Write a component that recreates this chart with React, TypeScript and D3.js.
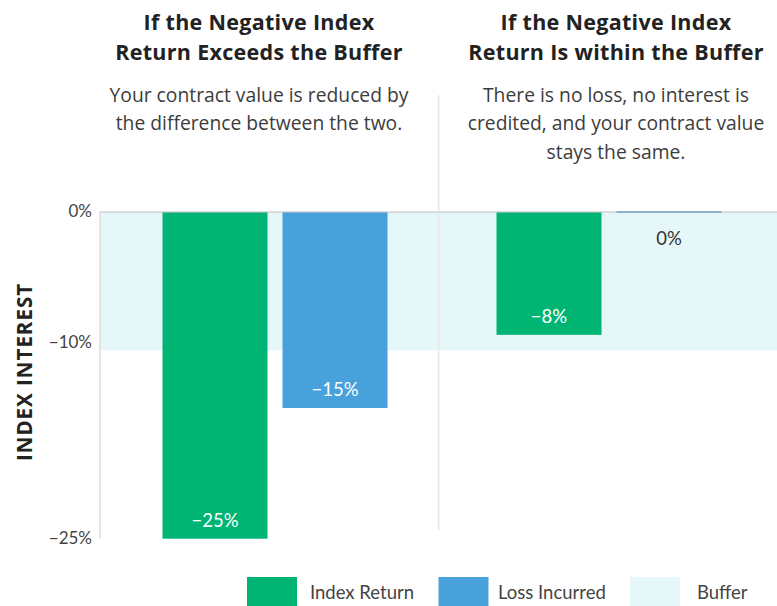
import React from "react";
import * as d3 from "d3";

// ---- data ----
const panels = ["exceeds", "within"];
const panelTitles = [
  ["If the Negative Index", "Return Exceeds the Buffer"],
  ["If the Negative Index", "Return Is within the Buffer"],
];
const panelNotes = [
  ["Your contract value is reduced by", "the difference between the two."],
  ["There is no loss, no interest is", "credited, and your contract value", "stays the same."],
];
const seriesNames = ["Index Return", "Loss Incurred"];
// bar values as drawn (percent)
const indexReturn = [-25, -9.4];
const lossIncurred = [-15, 0];
const indexReturnLabels = ["−25%", "−8%"];
const lossIncurredLabels = ["−15%", "0%"];
const bufferLevel = -10.6;
const yTicks = [0, -10, -25];
const yTickLabels = ["0%", "−10%", "−25%"];
const legendItems = ["Index Return", "Loss Incurred", "Buffer"];

const W = 777;
const H = 606;
const FONT = "Lato, 'Open Sans', sans-serif";
const TFONT = "'Open Sans', Lato, sans-serif";
const GREEN = "#00b574";
const BLUE = "#48a1db";
const BUFFER = "#e5f7f8";
const colors = [GREEN, BLUE];

export default function App() {
  const y = d3.scaleLinear().domain([0, -25]).range([212, 538.7]);
  const panelX = d3.scalePoint<string>().domain(panels).range([275, 609]);
  const inner = d3
    .scaleBand<string>()
    .domain(seriesNames)
    .range([-112.5, 112.5])
    .paddingInner(0.125);
  const textCenters = [259, 616];
  const values = [indexReturn, lossIncurred];
  const labels = [indexReturnLabels, lossIncurredLabels];
  const legendX = d3.scalePoint<string>().domain(legendItems).range([247, 630]);
  const legendTextX = [310, 498, 697];
  const legendColors = [GREEN, BLUE, BUFFER];

  const x0 = 100;
  const x1 = W;

  return (
    <svg
      width={W}
      height={H}
      style={{ position: "absolute", left: 0, top: 0, background: "#fff" }}
      fontFamily={FONT}
    >
      {/* buffer band */}
      <rect x={x0} y={y(0)} width={x1 - x0} height={y(bufferLevel) - y(0)} fill={BUFFER} />

      {/* divider */}
      <line x1={438.7} x2={438.7} y1={95} y2={530} stroke="#e8e8e8" strokeWidth={1.5} />

      {/* left axis line */}
      <line x1={x0} x2={x0} y1={y(0)} y2={y(-25)} stroke="#dcdcdc" strokeWidth={1.5} />

      {/* bars */}
      {panels.map((p, pi) =>
        seriesNames.map((s, si) => {
          const v = values[si][pi];
          const bx = (panelX(p) as number) + (inner(s) as number);
          const bw = inner.bandwidth();
          const top = y(0);
          const h = Math.max(y(v) - y(0), 2);
          const isZero = v === 0;
          return (
            <g key={p + s}>
              <rect x={bx} y={top - (isZero ? 1 : 0)} width={bw} height={h} fill={colors[si]} />
              <text
                x={bx + bw / 2}
                y={isZero ? y(0) + 33 : y(v) - 12}
                textAnchor="middle"
                fontSize={18.5}
                fill={isZero ? "#333" : "#fff"}
              >
                {labels[si][pi]}
              </text>
            </g>
          );
        })
      )}

      {/* zero line */}
      <line x1={x0} x2={x1} y1={y(0)} y2={y(0)} stroke="#c4c4c4" strokeOpacity={0.55} strokeWidth={2} />

      {/* y ticks */}
      {yTicks.map((t, i) => (
        <text
          key={t}
          x={92}
          y={y(t) + 1}
          textAnchor="end"
          dominantBaseline="middle"
          fontSize={17}
          fill="#444"
        >
          {yTickLabels[i]}
        </text>
      ))}

      {/* y title */}
      <text
        transform={`translate(32, 372) rotate(-90)`}
        textAnchor="middle"
        fontSize={20.5}
        fontWeight={700}
        fill="#222"
        fontFamily={TFONT}
        letterSpacing={1}
      >
        INDEX INTEREST
      </text>

      {/* panel titles & notes */}
      {panels.map((p, pi) => (
        <g key={p} fontFamily={TFONT}>
          {panelTitles[pi].map((line, li) => (
            <text
              key={li}
              x={textCenters[pi]}
              y={30 + li * 30}
              textAnchor="middle"
              fontSize={21.5}
              fontWeight={700}
              fill="#222"
              letterSpacing={0.3}
            >
              {line}
            </text>
          ))}
          {panelNotes[pi].map((line, li) => (
            <text
              key={li}
              x={textCenters[pi]}
              y={101.5 + li * 28.5}
              textAnchor="middle"
              fontSize={19.3}
              fill="#3c3c3c"
            >
              {line}
            </text>
          ))}
        </g>
      ))}

      {/* legend */}
      {legendItems.map((name, i) => (
        <g key={name}>
          <rect x={legendX(name)} y={577} width={50} height={29} fill={legendColors[i]} />
          <text x={legendTextX[i]} y={599} fontSize={18.5} fill="#444">
            {name}
          </text>
        </g>
      ))}
    </svg>
  );
}
